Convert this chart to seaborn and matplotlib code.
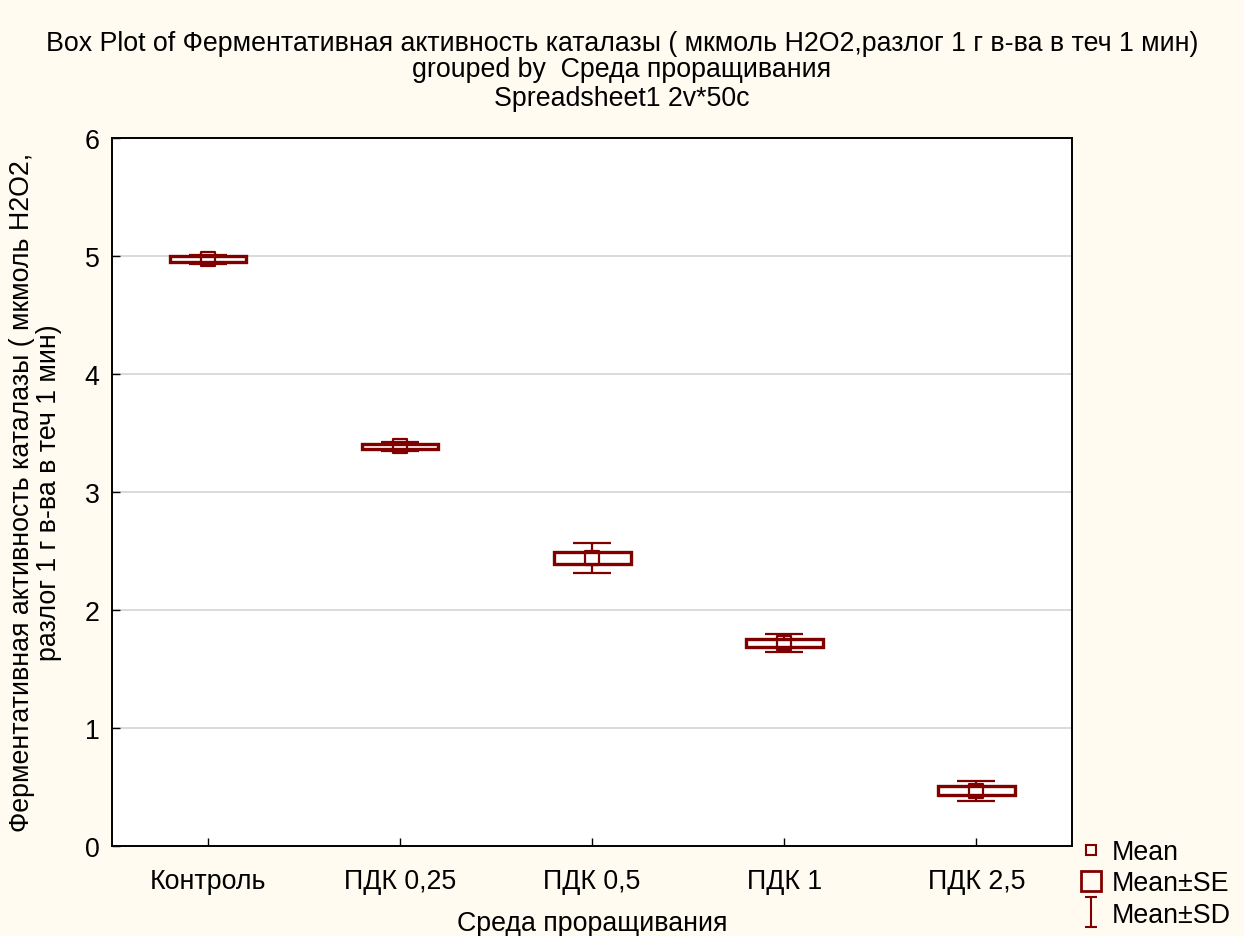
import matplotlib.pyplot as plt
import pandas as pd
import seaborn as sns
from matplotlib.lines import Line2D
from matplotlib.path import Path

groups = ["Контроль", "ПДК 0,25", "ПДК 0,5", "ПДК 1", "ПДК 2,5"]
means = [4.97, 3.385, 2.44, 1.72, 0.47]
se = [0.025, 0.02, 0.05, 0.03, 0.035]
sd = [0.04, 0.04, 0.125, 0.08, 0.085]

df = pd.DataFrame({"group": groups, "mean": means, "se": se, "sd": sd})
df["pos"] = range(len(df))

sns.set_style("white")
plt.rcParams["font.family"] = ["Liberation Sans", "DejaVu Sans"]
plt.rcParams["text.color"] = "black"
plt.rcParams["axes.labelcolor"] = "black"

red = "#800000"
bg = "#fffbf0"
fs = 19.3

fig = plt.figure(figsize=(12.44, 9.37), dpi=100, facecolor=bg)
ax = fig.add_axes([0.090, 0.096, 0.772, 0.756])
ax.set_facecolor("white")

# Mean±SD whiskers
ax.errorbar(df["pos"], df["mean"], yerr=df["sd"], fmt="none", ecolor=red,
            elinewidth=1.6, capsize=13.7, capthick=1.6, zorder=2)
# Mean±SE boxes
ax.bar(df["pos"], 2 * df["se"], bottom=df["mean"] - df["se"], width=0.4,
       facecolor="white", edgecolor=red, linewidth=2.4, zorder=3)
# Mean markers
sns.scatterplot(data=df, x="pos", y="mean", marker="s", s=100, facecolor="none",
                edgecolor=red, linewidth=1.6, ax=ax, zorder=4)

ax.set_xlim(-0.5, 4.5)
ax.set_ylim(0, 6)
ax.set_xticks(df["pos"])
ax.set_xticklabels(groups)
ax.set_yticks(range(0, 7))
ax.yaxis.grid(True, color="#d4d4d4", linewidth=1.2)
ax.set_axisbelow(True)
ax.tick_params(axis="both", direction="in", length=6, width=1, labelsize=fs,
               colors="black", left=True, bottom=True)
ax.tick_params(axis="x", pad=16)
ax.tick_params(axis="y", pad=9)
for s in ax.spines.values():
    s.set_color("black")
    s.set_linewidth(1.4)

ax.set_xlabel("Среда проращивания", fontsize=fs, labelpad=11)
ax.set_ylabel("Ферментативная активность каталазы ( мкмоль H2O2,\nразлог 1 г в-ва в теч 1 мин)",
              fontsize=fs, labelpad=16, linespacing=1.05)

title_lines = [
    "Box Plot of Ферментативная активность каталазы ( мкмоль H2O2,разлог 1 г в-ва в теч 1 мин)",
    "grouped by  Среда проращивания",
    "Spreadsheet1 2v*50c",
]
for y, t in zip([0.953, 0.925, 0.894], title_lines):
    fig.text(0.5, y, t, ha="center", va="center", fontsize=fs)

sd_marker = Path([(-0.4, 1), (0.4, 1), (0, 1), (0, -1), (-0.4, -1), (0.4, -1)],
                 [Path.MOVETO, Path.LINETO, Path.MOVETO, Path.LINETO, Path.MOVETO, Path.LINETO])
handles = [
    Line2D([], [], marker="s", linestyle="none", markerfacecolor="none",
           markeredgecolor=red, markersize=7, markeredgewidth=1.5),
    Line2D([], [], marker="s", linestyle="none", markerfacecolor="none",
           markeredgecolor=red, markersize=14, markeredgewidth=2),
    Line2D([], [], marker=sd_marker, linestyle="none", markerfacecolor="none",
           markeredgecolor=red, markersize=21, markeredgewidth=1.5),
]
fig.legend(handles, ["Mean", "Mean±SE", "Mean±SD"], loc="lower left",
           bbox_to_anchor=(0.846, -0.017), frameon=False, fontsize=fs,
           handletextpad=0.2, labelspacing=0.2, handlelength=1.1)

fig.savefig("out.png", dpi=100, facecolor=bg)
